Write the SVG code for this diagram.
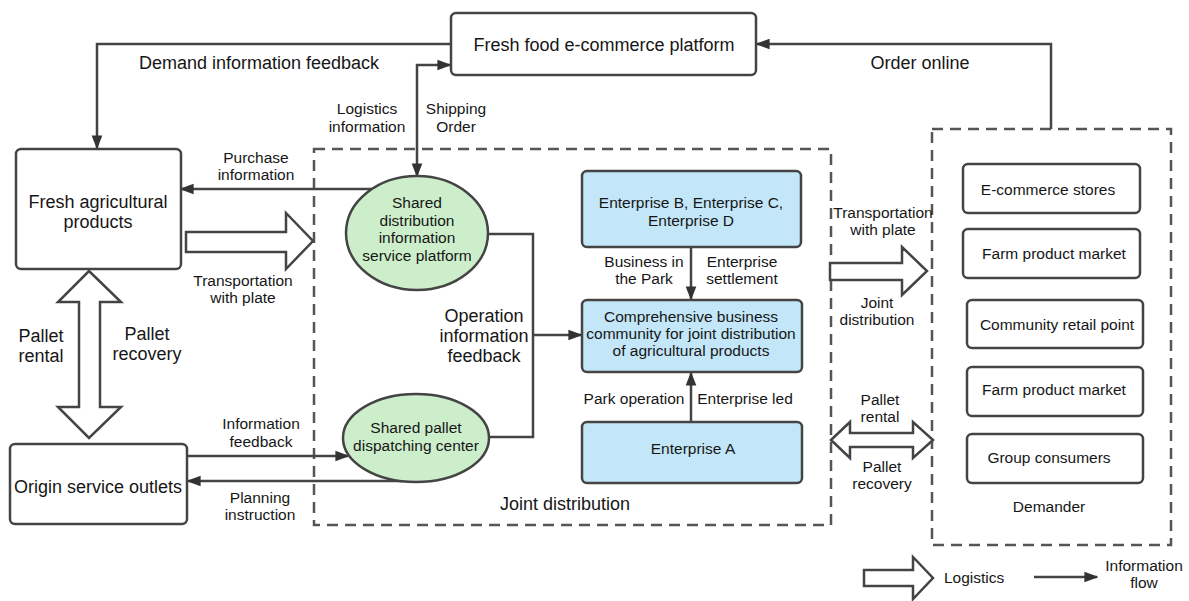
<svg xmlns="http://www.w3.org/2000/svg" width="1189" height="601" viewBox="0 0 1189 601">
<defs>
<marker id="ah" viewBox="0 0 10 10" refX="9" refY="5" markerWidth="5.6" markerHeight="5.6" markerUnits="strokeWidth" orient="auto-start-reverse">
<path d="M0,1.2 L10,5 L0,8.8 z" fill="#333"/>
</marker>
<style>
text{font-family:"Liberation Sans",Arial,sans-serif;fill:#161616;text-anchor:middle}
.l{font-size:18px}
.s{font-size:15.5px}
.box{fill:#fff;stroke:#444;stroke-width:2.5}
.blue{fill:#c3e6f8;stroke:#444;stroke-width:2.5}
.green{fill:#cdeecb;stroke:#444;stroke-width:2.5}
.dash{fill:none;stroke:#555;stroke-width:2.5;stroke-dasharray:11 7}
.ln{fill:none;stroke:#444;stroke-width:2.5}
.arr{fill:none;stroke:#444;stroke-width:2.5;marker-end:url(#ah)}
.hollow{fill:#fff;stroke:#444;stroke-width:2.5;stroke-linejoin:miter}
</style>
</defs>
<rect width="1189" height="601" fill="#fff"/>

<g id="joint-distribution-area">
<rect class="dash" x="314" y="149" width="517" height="376"/>
<text class="l" x="565" y="510">Joint distribution</text>
</g>
<g id="demander-area">
<rect class="dash" x="932" y="129" width="239" height="416"/>
<text class="s" x="1049" y="512">Demander</text>
</g>

<g id="connectors">
<path class="arr" d="M451,44 H97 V148"/>
<path class="arr" d="M1051,129 V44 H757"/>
<path class="arr" style="marker-start:url(#ah)" d="M450,65 H417 V176"/>
<path class="arr" d="M372,189 H181"/>
<path class="ln" d="M488,234 H533 V437 H489"/>
<path class="arr" d="M533,335 H581"/>
<path class="arr" d="M187,456 H348"/>
<path class="arr" d="M402,481 H188"/>
<path class="arr" d="M691,247 V299"/>
<path class="arr" d="M691,422 V373"/>
<path class="arr" d="M1034,577 H1097"/>
<polygon class="hollow" points="186,232 286,232 286,213 313,241 286,269 286,252 186,252"/>
<polygon class="hollow" points="89,271 121,302 100,302 100,407 121,407 89,438 58,407 79,407 79,302 58,302"/>
<polygon class="hollow" points="830,263 902,263 902,247 927,271 902,295 902,280 830,280"/>
<polygon class="hollow" points="831,440 850,422 850,433 913,433 913,422 933,440 913,458 913,447 850,447 850,458"/>
<polygon class="hollow" points="864,570 913,570 913,557 933,578 913,599 913,586 864,586"/>
</g>

<g id="labels">
<text class="l" x="259" y="69">Demand information feedback</text>
<text class="l" x="920" y="69">Order online</text>
<text class="s" x="367" y="114">Logistics</text>
<text class="s" x="367" y="132">information</text>
<text class="s" x="456" y="114">Shipping</text>
<text class="s" x="456" y="132">Order</text>
<text class="s" x="256" y="163">Purchase</text>
<text class="s" x="256" y="180">information</text>
<text class="s" x="243" y="286">Transportation</text>
<text class="s" x="243" y="303">with plate</text>
<text class="l" x="41" y="342">Pallet</text>
<text class="l" x="41" y="362">rental</text>
<text class="l" x="147" y="340">Pallet</text>
<text class="l" x="147" y="360">recovery</text>
<text class="s" x="261" y="429">Information</text>
<text class="s" x="261" y="447">feedback</text>
<text class="s" x="260" y="503">Planning</text>
<text class="s" x="260" y="520">instruction</text>
<text class="l" x="484" y="322">Operation</text>
<text class="l" x="484" y="342">information</text>
<text class="l" x="484" y="362">feedback</text>
<text class="s" x="644" y="267">Business in</text>
<text class="s" x="644" y="284">the Park</text>
<text class="s" x="742" y="267">Enterprise</text>
<text class="s" x="742" y="284">settlement</text>
<text class="s" x="634" y="404">Park operation</text>
<text class="s" x="745" y="404">Enterprise led</text>
<text class="s" x="883" y="218">Transportation</text>
<text class="s" x="883" y="235">with plate</text>
<text class="s" x="877" y="308">Joint</text>
<text class="s" x="877" y="325">distribution</text>
<text class="s" x="880" y="405">Pallet</text>
<text class="s" x="880" y="422">rental</text>
<text class="s" x="882" y="472">Pallet</text>
<text class="s" x="882" y="489">recovery</text>
</g>

<g id="ecommerce-platform">
<rect class="box" x="451" y="13" width="305" height="62" rx="5"/>
<text class="l" x="604" y="51">Fresh food e-commerce platform</text>
</g>
<g id="fresh-agricultural-products">
<rect class="box" x="16" y="149" width="165" height="120" rx="5"/>
<text class="l" x="98" y="208">Fresh agricultural</text>
<text class="l" x="98" y="228">products</text>
</g>
<g id="origin-service-outlets">
<rect class="box" x="10" y="444" width="177" height="80" rx="5"/>
<text class="l" x="98" y="493">Origin service outlets</text>
</g>
<g id="shared-distribution-platform">
<ellipse class="green" cx="417" cy="233" rx="71" ry="57"/>
<text class="s" x="417" y="208">Shared</text>
<text class="s" x="417" y="226">distribution</text>
<text class="s" x="417" y="243">information</text>
<text class="s" x="417" y="261">service platform</text>
</g>
<g id="shared-pallet-center">
<ellipse class="green" cx="416" cy="438" rx="73" ry="44"/>
<text class="s" x="416" y="433">Shared pallet</text>
<text class="s" x="416" y="451">dispatching center</text>
</g>
<g id="enterprise-bcd">
<rect class="blue" x="582" y="171" width="219" height="76" rx="5"/>
<text class="s" x="691" y="208">Enterprise B, Enterprise C,</text>
<text class="s" x="691" y="226">Enterprise D</text>
</g>
<g id="comprehensive-community">
<rect class="blue" x="582" y="300" width="220" height="72" rx="5"/>
<text class="s" x="691" y="322">Comprehensive business</text>
<text class="s" x="691" y="339">community for joint distribution</text>
<text class="s" x="691" y="356">of agricultural products</text>
</g>
<g id="enterprise-a">
<rect class="blue" x="582" y="422" width="220" height="61" rx="5"/>
<text class="s" x="693" y="454">Enterprise A</text>
</g>
<g id="ecommerce-stores">
<rect class="box" x="963" y="164" width="177" height="49" rx="5"/>
<text class="s" x="1048" y="195">E-commerce stores</text>
</g>
<g id="farm-product-market-1">
<rect class="box" x="963" y="229" width="177" height="49" rx="5"/>
<text class="s" x="1054" y="259">Farm product market</text>
</g>
<g id="community-retail-point">
<rect class="box" x="967" y="300" width="176" height="48" rx="5"/>
<text class="s" x="1057" y="330">Community retail point</text>
</g>
<g id="farm-product-market-2">
<rect class="box" x="967" y="367" width="176" height="49" rx="5"/>
<text class="s" x="1054" y="395">Farm product market</text>
</g>
<g id="group-consumers">
<rect class="box" x="967" y="434" width="176" height="49" rx="5"/>
<text class="s" x="1049" y="463">Group consumers</text>
</g>
<g id="legend">
<text class="s" x="944" y="583" style="text-anchor:start">Logistics</text>
<text class="s" x="1144" y="571">Information</text>
<text class="s" x="1144" y="588">flow</text>
</g>
</svg>
